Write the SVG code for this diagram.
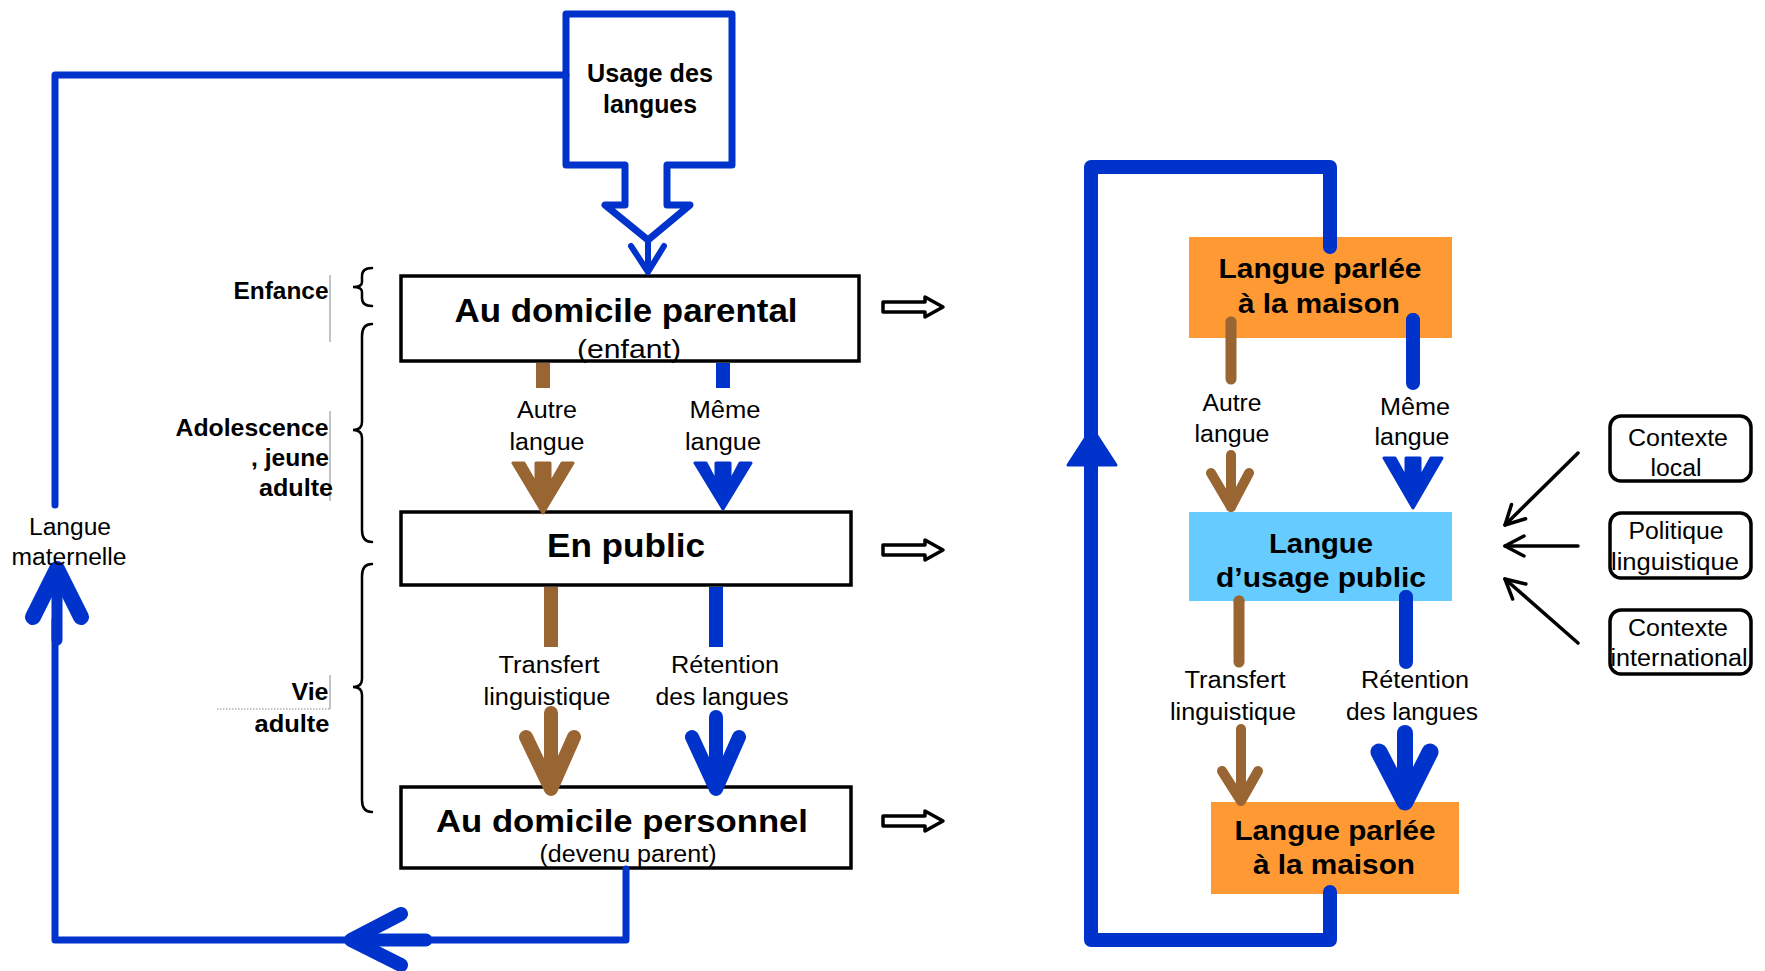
<svg xmlns="http://www.w3.org/2000/svg" width="1765" height="971" viewBox="0 0 1765 971">
<style>
.b{font-family:"Liberation Sans Narrow","Liberation Sans",Arial,sans-serif;font-weight:bold;fill:#000;text-anchor:middle}
.r{font-family:"Liberation Sans Narrow","Liberation Sans",Arial,sans-serif;font-weight:normal;fill:#000;text-anchor:middle}
.box{fill:#fff;stroke:#000;stroke-width:3.5}
.ctx{fill:#fff;stroke:#000;stroke-width:3.5}
.blue{fill:none;stroke:#0033CC;stroke-linejoin:round;stroke-linecap:round}
.brown{fill:none;stroke:#996633;stroke-linejoin:round;stroke-linecap:round}
.bluef{fill:#0033CC;stroke:#0033CC;stroke-width:3;stroke-linejoin:round}
.brownf{fill:#996633;stroke:#996633;stroke-width:3;stroke-linejoin:round}
.hollow{fill:#fff;stroke:#000;stroke-width:3.5;stroke-linejoin:round}
.brace{fill:none;stroke:#000;stroke-width:2.5;stroke-linecap:round}
.thin{fill:none;stroke:#888;stroke-width:1}
.blk{fill:none;stroke:#000;stroke-width:3.5;stroke-linecap:round}
</style>
<defs>
<marker id="open" markerUnits="userSpaceOnUse" viewBox="0 0 30 30" markerWidth="30" markerHeight="30" refX="21" refY="15" orient="auto">
<path d="M2,5 L21,15 L2,25" fill="none" stroke="#000" stroke-width="3.5" stroke-linecap="round" stroke-linejoin="round"/>
</marker>
</defs>
<rect width="1765" height="971" fill="#fff"/>

<g id="usage">
<text class="b" font-size="26" x="650" y="82" textLength="126" lengthAdjust="spacingAndGlyphs">Usage des</text>
<text class="b" font-size="26" x="650" y="113" textLength="94" lengthAdjust="spacingAndGlyphs">langues</text>
</g>

<g id="domicile-parental">
<rect class="box" x="401" y="276" width="458" height="85"/>
<text class="b" font-size="33" x="626" y="322" textLength="343" lengthAdjust="spacingAndGlyphs">Au domicile parental</text>
<text class="r" font-size="25" x="629" y="358" textLength="104" lengthAdjust="spacingAndGlyphs">(enfant)</text>
</g>

<g id="en-public">
<rect class="box" x="401" y="512" width="450" height="73"/>
<text class="b" font-size="33" x="626" y="557" textLength="158" lengthAdjust="spacingAndGlyphs">En public</text>
</g>

<g id="domicile-personnel">
<rect class="box" x="401" y="787" width="450" height="81"/>
<text class="b" font-size="32" x="622" y="832" textLength="372" lengthAdjust="spacingAndGlyphs">Au domicile personnel</text>
<text class="r" font-size="23" x="628" y="862" textLength="177" lengthAdjust="spacingAndGlyphs">(devenu parent)</text>
</g>

<g id="periods">
<path class="thin" d="M330,275 L330,342"/>
<path class="thin" d="M330,411 L330,501"/>
<path class="thin" d="M330,675 L330,709"/>
<path class="thin" stroke-dasharray="1.5,1.5" d="M217,709 L330,709"/>
<text class="b" font-size="24" x="281" y="299" textLength="95" lengthAdjust="spacingAndGlyphs">Enfance</text>
<text class="b" font-size="24" x="252" y="436" textLength="153" lengthAdjust="spacingAndGlyphs">Adolescence</text>
<text class="b" font-size="24" x="290" y="466" textLength="78" lengthAdjust="spacingAndGlyphs">, jeune</text>
<text class="b" font-size="24" x="296" y="496" textLength="74" lengthAdjust="spacingAndGlyphs">adulte</text>
<text class="b" font-size="24" x="310" y="700" textLength="37" lengthAdjust="spacingAndGlyphs">Vie</text>
<text class="b" font-size="24" x="292" y="732" textLength="75" lengthAdjust="spacingAndGlyphs">adulte</text>
<path class="brace" d="M372,268 Q362,268 362,276 L362,282 Q362,287 353,287 Q362,287 362,292 L362,298 Q362,306 372,306"/>
<path class="brace" d="M372,324 Q362,324 362,336 L362,422 Q362,430 353,430 Q362,430 362,438 L362,530 Q362,542 372,542"/>
<path class="brace" d="M372,564 Q362,564 362,576 L362,679 Q362,687 353,687 Q362,687 362,695 L362,800 Q362,812 372,812"/>
</g>

<g id="maison-1">
<rect x="1189" y="237" width="263" height="101" fill="#FF9933"/>
<text class="b" font-size="27" x="1320" y="278" textLength="203" lengthAdjust="spacingAndGlyphs">Langue parlée</text>
<text class="b" font-size="27" x="1319" y="313" textLength="162" lengthAdjust="spacingAndGlyphs">à la maison</text>
</g>

<g id="usage-public">
<rect x="1189" y="512" width="263" height="89" fill="#66CCFF"/>
<text class="b" font-size="27" x="1321" y="553" textLength="104" lengthAdjust="spacingAndGlyphs">Langue</text>
<text class="b" font-size="27" x="1321" y="587" textLength="210" lengthAdjust="spacingAndGlyphs">d’usage public</text>
</g>

<g id="maison-2">
<rect x="1211" y="802" width="248" height="92" fill="#FF9933"/>
<text class="b" font-size="27" x="1335" y="840" textLength="201" lengthAdjust="spacingAndGlyphs">Langue parlée</text>
<text class="b" font-size="27" x="1334" y="874" textLength="162" lengthAdjust="spacingAndGlyphs">à la maison</text>
</g>

<g id="contexte-local">
<rect class="ctx" x="1610" y="416" width="141" height="65" rx="11"/>
<text class="r" font-size="23" x="1678" y="446" textLength="100" lengthAdjust="spacingAndGlyphs">Contexte</text>
<text class="r" font-size="23" x="1676" y="476" textLength="51" lengthAdjust="spacingAndGlyphs">local</text>
</g>

<g id="politique">
<rect class="ctx" x="1610" y="513" width="141" height="65" rx="11"/>
<text class="r" font-size="23" x="1676" y="539" textLength="95" lengthAdjust="spacingAndGlyphs">Politique</text>
<text class="r" font-size="23" x="1675" y="570" textLength="128" lengthAdjust="spacingAndGlyphs">linguistique</text>
</g>

<g id="contexte-international">
<rect class="ctx" x="1610" y="610" width="141" height="64" rx="11"/>
<text class="r" font-size="23" x="1678" y="636" textLength="100" lengthAdjust="spacingAndGlyphs">Contexte</text>
<text class="r" font-size="23" x="1679" y="666" textLength="137" lengthAdjust="spacingAndGlyphs">international</text>
</g>

<g id="connectors">
<!-- left outer loop -->
<path class="blue" stroke-width="7" d="M566,75 L55,75 L55,505"/>
<path class="blue" stroke-width="7" d="M626,869 L626,940 L55,940 L55,620"/>
<path class="blue" stroke-width="11" d="M57,640 L57,572"/>
<polyline class="blue" stroke-width="16" points="33,617 57,569 81,617"/>
<path class="blue" stroke-width="13" d="M352,940 L426,940"/>
<polyline class="blue" stroke-width="14" points="401,914 351,940 401,965"/>
<!-- usage block arrow -->
<path class="blue" stroke-width="7" d="M566,14 L732,14 L732,165 L667,165 L667,205 L690,205 L648,240 L605,205 L625,205 L625,165 L566,165 Z"/>
<path class="blue" stroke-width="6" d="M648,240 L648,271"/>
<polyline class="blue" stroke-width="6" points="631,246 648,272 664,246"/>
<!-- box1 to box2 -->
<rect x="536" y="363" width="14" height="25" fill="#996633"/>
<rect x="716" y="363" width="14" height="25" fill="#0033CC"/>
<polygon class="brownf" points="513,463 524,463 536,484 536,463 550,463 550,484 562,463 573,463 543,513"/>
<polygon class="bluef" points="695,463 706,463 716,482 716,463 730,463 730,482 740,463 751,463 723,509"/>
<!-- box2 to box3 -->
<rect x="544" y="587" width="14" height="60" fill="#996633"/>
<rect x="709" y="587" width="14" height="60" fill="#0033CC"/>
<path class="brown" stroke-width="14" d="M551,713 L551,788"/>
<polyline class="brown" stroke-width="14" points="526,737 551,789 574,737"/>
<path class="blue" stroke-width="14" d="M716,717 L716,788"/>
<polyline class="blue" stroke-width="14" points="692,737 716,789 739,737"/>
<!-- hollow arrows -->
<path class="hollow" d="M883,302 L925,302 L925,297 L943,307 L925,317 L925,312 L883,312 Z"/>
<path class="hollow" d="M883,545 L925,545 L925,540 L943,550 L925,560 L925,555 L883,555 Z"/>
<path class="hollow" d="M883,816 L925,816 L925,811 L943,821 L925,831 L925,826 L883,826 Z"/>
<!-- right loop -->
<path class="blue" stroke-width="14" d="M1330,247 L1330,167 L1091,167 L1091,940 L1330,940 L1330,892"/>
<polygon class="bluef" points="1068,465 1116,465 1092,428"/>
<!-- right internal -->
<path class="brown" stroke-width="11" d="M1231,322 L1231,379" stroke-linecap="butt"/>
<circle cx="1231" cy="322" r="5.5" fill="#996633"/>
<path class="blue" stroke-width="14" d="M1413,320 L1413,383" stroke-linecap="butt"/>
<circle cx="1413" cy="320" r="7" fill="#0033CC"/>
<path class="brown" stroke-width="10" d="M1231,455 L1231,507" stroke-linecap="butt"/>
<polyline class="brown" stroke-width="10" points="1211,473 1231,507 1249,473"/>
<polygon class="bluef" points="1384,458 1395,458 1406,478 1406,458 1420,458 1420,478 1431,458 1442,458 1413,508"/>
<path class="brown" stroke-width="11" d="M1239,601 L1239,662" stroke-linecap="butt"/>
<circle cx="1239" cy="601" r="5.5" fill="#996633"/>
<path class="blue" stroke-width="14" d="M1406,597 L1406,662" stroke-linecap="butt"/>
<circle cx="1406" cy="597" r="7" fill="#0033CC"/>
<path class="brown" stroke-width="10" d="M1241,729 L1241,800" stroke-linecap="butt"/>
<polyline class="brown" stroke-width="10" points="1222,771 1241,801 1258,771"/>
<path class="blue" stroke-width="16" d="M1405,733 L1405,800" stroke-linecap="butt"/>
<polyline class="blue" stroke-width="17" points="1379,752 1405,802 1430,752"/>
<!-- context arrows -->
<path class="blk" d="M1578,453 L1505,525" marker-end="url(#open)"/>
<path class="blk" d="M1578,546 L1505,546" marker-end="url(#open)"/>
<path class="blk" d="M1578,643 L1505,579" marker-end="url(#open)"/>
<!-- connector labels -->
<text class="r" font-size="23" x="547" y="418" textLength="60" lengthAdjust="spacingAndGlyphs">Autre</text>
<text class="r" font-size="23" x="547" y="450" textLength="75" lengthAdjust="spacingAndGlyphs">langue</text>
<text class="r" font-size="23" x="725" y="418" textLength="71" lengthAdjust="spacingAndGlyphs">Même</text>
<text class="r" font-size="23" x="723" y="450" textLength="76" lengthAdjust="spacingAndGlyphs">langue</text>
<text class="r" font-size="23" x="549" y="673" textLength="101" lengthAdjust="spacingAndGlyphs">Transfert</text>
<text class="r" font-size="23" x="547" y="705" textLength="127" lengthAdjust="spacingAndGlyphs">linguistique</text>
<text class="r" font-size="23" x="725" y="673" textLength="108" lengthAdjust="spacingAndGlyphs">Rétention</text>
<text class="r" font-size="23" x="722" y="705" textLength="133" lengthAdjust="spacingAndGlyphs">des langues</text>
<text class="r" font-size="23" x="1232" y="411" textLength="59" lengthAdjust="spacingAndGlyphs">Autre</text>
<text class="r" font-size="23" x="1232" y="442" textLength="75" lengthAdjust="spacingAndGlyphs">langue</text>
<text class="r" font-size="23" x="1415" y="415" textLength="70" lengthAdjust="spacingAndGlyphs">Même</text>
<text class="r" font-size="23" x="1412" y="445" textLength="75" lengthAdjust="spacingAndGlyphs">langue</text>
<text class="r" font-size="23" x="1235" y="688" textLength="101" lengthAdjust="spacingAndGlyphs">Transfert</text>
<text class="r" font-size="23" x="1233" y="720" textLength="126" lengthAdjust="spacingAndGlyphs">linguistique</text>
<text class="r" font-size="23" x="1415" y="688" textLength="108" lengthAdjust="spacingAndGlyphs">Rétention</text>
<text class="r" font-size="23" x="1412" y="720" textLength="132" lengthAdjust="spacingAndGlyphs">des langues</text>
<text class="r" font-size="23" x="70" y="535" textLength="82" lengthAdjust="spacingAndGlyphs">Langue</text>
<text class="r" font-size="23" x="69" y="565" textLength="115" lengthAdjust="spacingAndGlyphs">maternelle</text>
</g>
</svg>
